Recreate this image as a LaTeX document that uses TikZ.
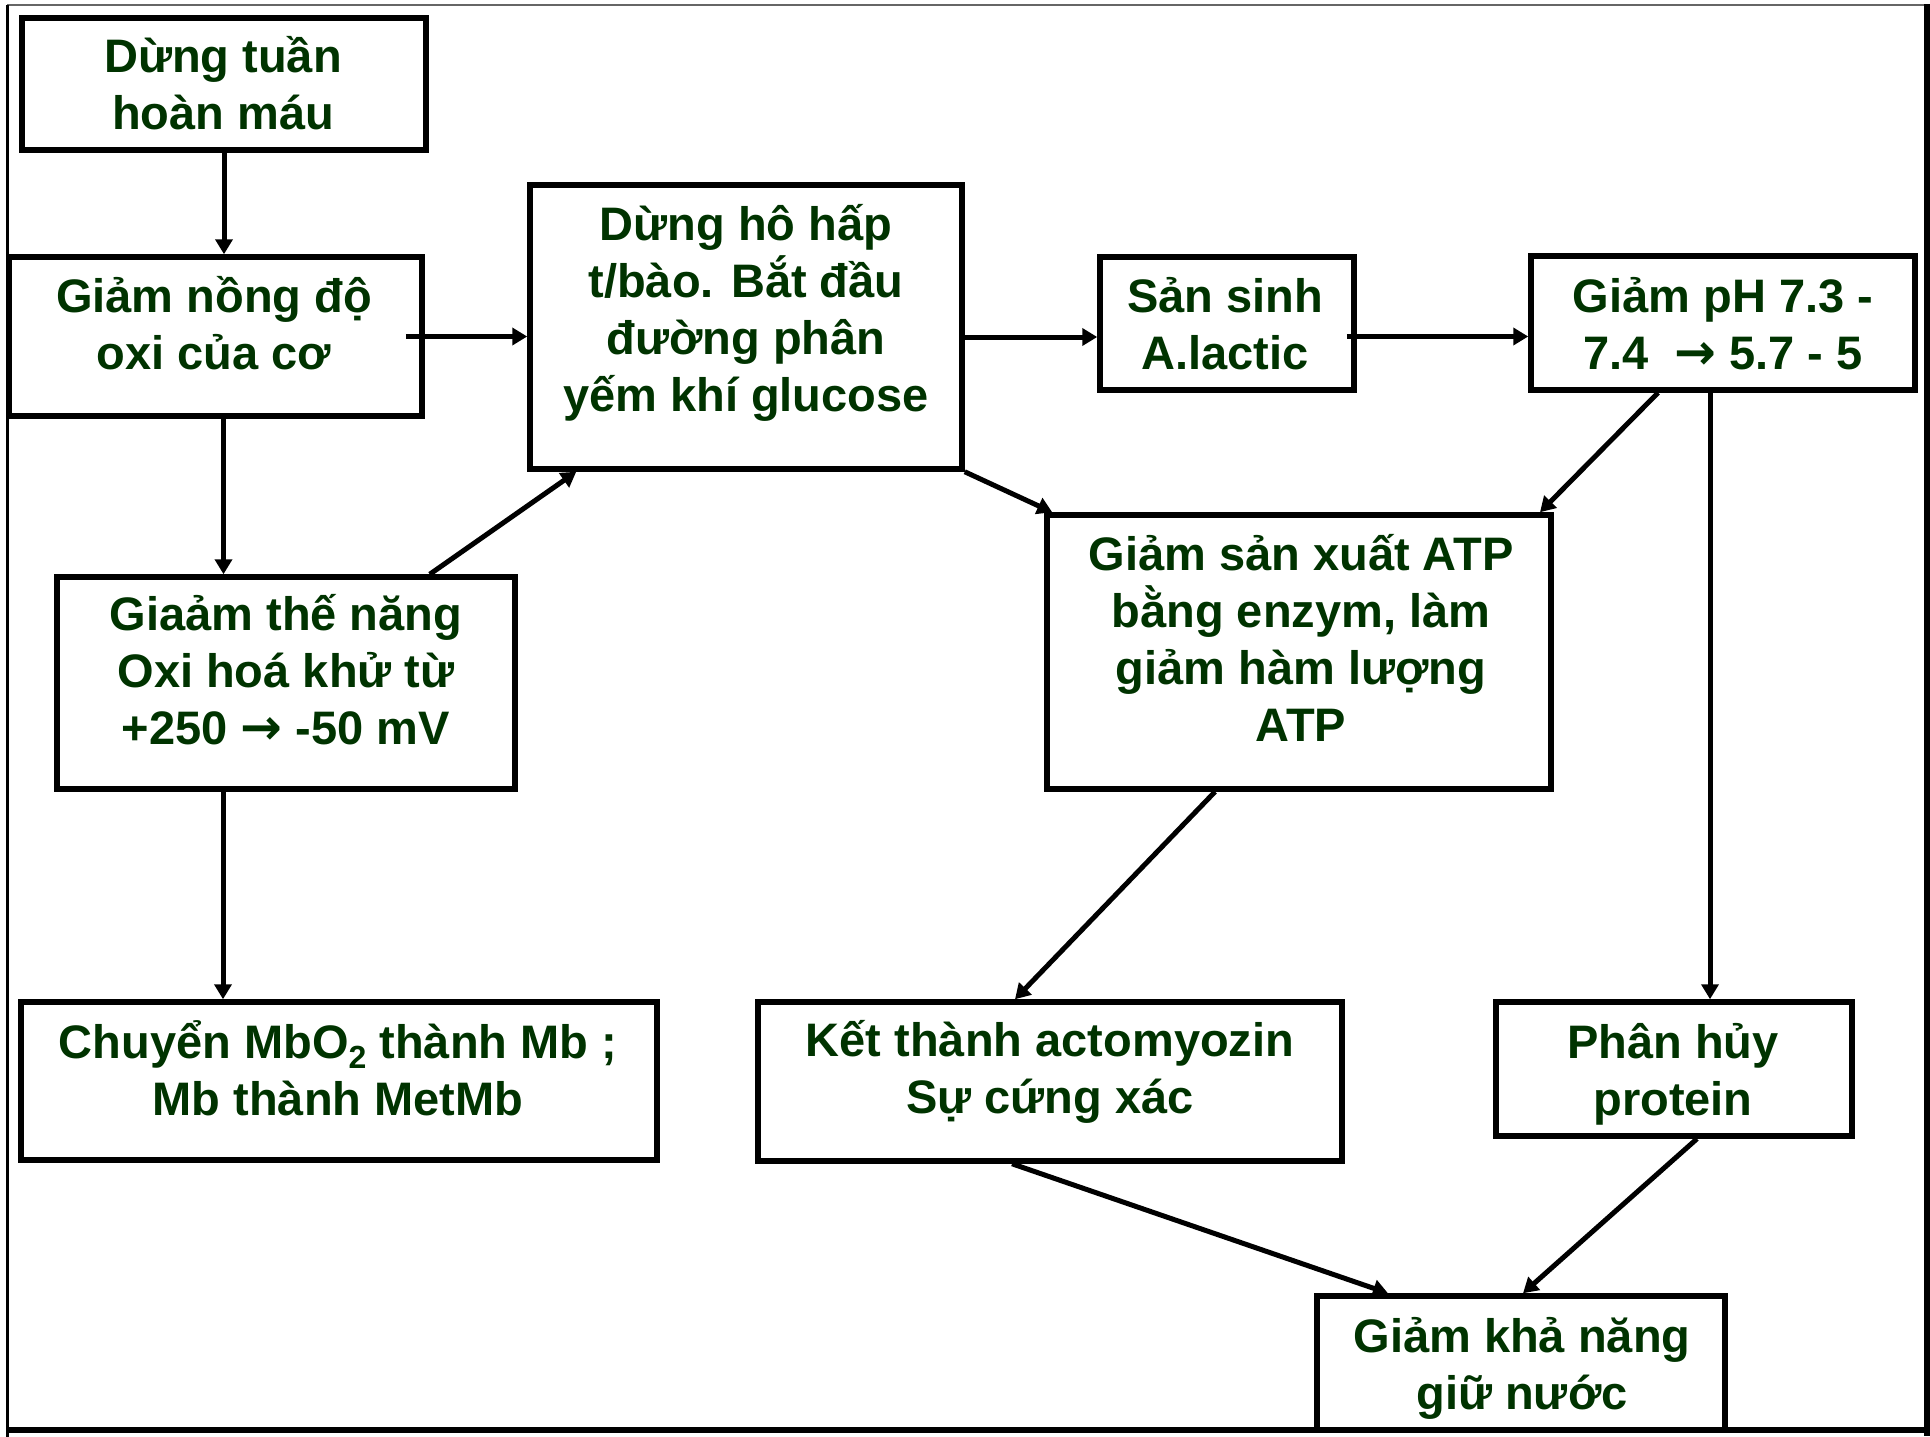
\documentclass[tikz,border=0pt]{standalone}
\usepackage{fontspec}
\setmainfont{Liberation Sans}
\newfontfamily\arrowfont{DejaVu Sans}
\usetikzlibrary{arrows.meta,calc}
\definecolor{txtgreen}{RGB}{0,51,0}
\tikzset{
  box/.style={draw=black, line width=5.5pt, outer sep=2.75pt, inner sep=0pt, rectangle},
  txt/.style={text=txtgreen, font=\fontsize{47}{57}\selectfont\bfseries, align=center, inner sep=0pt, anchor=north},
  arr/.style={line width=5pt, -{Triangle[length=15pt,width=17pt]}},
}
\newcommand{\fs}{\rule{0pt}{48pt}}
\newcommand{\rarr}{{\arrowfont\bfseries\fontsize{50}{57}\selectfont →}}
\begin{document}
\begin{tikzpicture}[x=1pt,y=-1pt]
\useasboundingbox (0,0) rectangle (1930,1437);
% outer frame
\draw[line width=2pt, black!60] (7,5) -- (1927,5);
\draw[line width=3pt] (7,5) -- (7,1437);
\draw[line width=6pt] (1927,4) -- (1927,1436);
\draw[line width=6pt] (7,1430) -- (1930,1430);

% boxes
\node[box, minimum width=404pt, minimum height=132pt] (b1) at (224,84) {};
\node[box, minimum width=413pt, minimum height=159pt] (b2) at (215.5,336.5) {};
\node[box, minimum width=432pt, minimum height=284pt] (b3) at (746,327) {};
\node[box, minimum width=254pt, minimum height=133pt] (b4) at (1227,323.5) {};
\node[box, minimum width=384pt, minimum height=134pt] (b5) at (1723,323) {};
\node[box, minimum width=504pt, minimum height=274pt] (b6) at (1299,652) {};
\node[box, minimum width=458pt, minimum height=212pt] (b7) at (286,683) {};
\node[box, minimum width=356pt, minimum height=134pt] (b8) at (1674,1069) {};
\node[box, minimum width=636pt, minimum height=158pt] (b9) at (339,1081) {};
\node[box, minimum width=584pt, minimum height=159pt] (b10) at (1050,1081.5) {};
\node[box, minimum width=408pt, minimum height=134pt] (b11) at (1521,1363) {};

% texts
\node[txt] (t1) at (223,24) {\fs Dừng tuần\\hoàn máu};
\node[txt] (t2) at (214,264) {\fs Giảm nồng độ\\oxi của cơ};
\node[txt] (t3) at (746,192) {\fs Dừng hô hấp\\t/bào. Bắt đầu\\đường phân\\yếm khí glucose};
\node[txt] (t4) at (1225,264) {\fs Sản sinh\\A.lactic};
\node[txt] (t5) at (1723,264) {\fs Giảm pH 7.3 -\\7.4 \ \rarr{} 5.7 - 5};
\node[txt] (t6) at (1301,522) {\fs Giảm sản xuất ATP\\bằng enzym, làm\\giảm hàm lượng\\ATP};
\node[txt] (t7) at (286,582) {\fs Giaảm thế năng\\Oxi hoá khử từ\\+250 \rarr{} -50 mV};
\node[txt] (t9) at (338,1010) {\fs Chuyển MbO\raisebox{-10pt}{\fontsize{32}{32}\selectfont 2} thành Mb ;\\Mb thành MetMb};
\node[txt] (t10) at (1050,1008) {\fs Kết thành actomyozin\\Sự cứng xác};
\node[txt] (t8) at (1673,1010) {\fs Phân hủy\\protein};
\node[txt] (t11) at (1522,1304) {\fs Giảm khả năng\\giữ nước};

% connectors
\draw[arr] (b1.south) -- (b1.south |- b2.north);
\draw[arr] ([xshift=8pt]b2.south) -- ([xshift=8pt]b2.south |- b7.north);
\draw[arr] ([xshift=-63pt]b7.south) -- ([xshift=-63pt]b7.south |- b9.north);
\draw[arr] ([xshift=-19pt]b2.east) -- (b3.west |- b2.east);
\draw[arr] ([yshift=-10pt]b3.east) -- ([yshift=-10pt]b3.east -| b4.west);
\draw[arr] ([shift={(-10pt,-13pt)}]b4.east) -- ([yshift=-13pt]b4.east -| b5.west);
\draw[arr] ([xshift=-65pt]b5.south) -- ([xshift=241pt]b6.north);
\draw[arr] ([xshift=-13pt]b5.south) -- ([xshift=-13pt]b5.south |- b8.north);
\draw[arr] (b3.south east) -- ([xshift=8pt]b6.north west);
\draw[arr] ([xshift=-88pt]b7.north east) -- ([xshift=49pt]b3.south west);
\draw[arr] ([xshift=-84pt]b6.south) -- ([xshift=-35pt]b10.north);
\draw[arr] ([xshift=-38pt]b10.south) -- ([xshift=-133pt]b11.north);
\draw[arr] ([xshift=23pt]b8.south) -- ([xshift=2pt]b11.north);
\end{tikzpicture}
\end{document}
